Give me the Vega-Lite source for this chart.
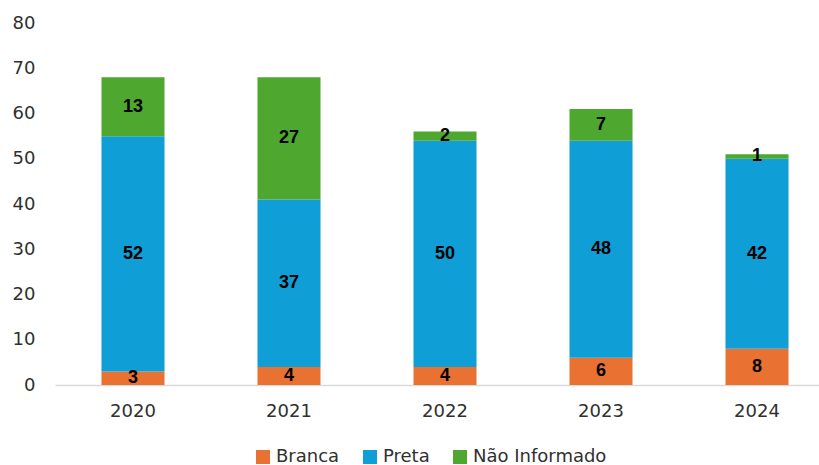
{
  "$schema": "https://vega.github.io/schema/vega-lite/v6.json",
  "autosize": {"type": "none"},
  "width": 764,
  "height": 362,
  "padding": {"left": 55, "top": 23, "right": 0, "bottom": 80},
  "background": "white",
  "config": {"view": {"stroke": null}, "font": "DejaVu Sans"},
  "data": {
    "values": [
      {"ano": "2020", "raca": "Branca", "valor": 3},
      {"ano": "2020", "raca": "Preta", "valor": 52},
      {"ano": "2020", "raca": "Não Informado", "valor": 13},
      {"ano": "2021", "raca": "Branca", "valor": 4},
      {"ano": "2021", "raca": "Preta", "valor": 37},
      {"ano": "2021", "raca": "Não Informado", "valor": 27},
      {"ano": "2022", "raca": "Branca", "valor": 4},
      {"ano": "2022", "raca": "Preta", "valor": 50},
      {"ano": "2022", "raca": "Não Informado", "valor": 2},
      {"ano": "2023", "raca": "Branca", "valor": 6},
      {"ano": "2023", "raca": "Preta", "valor": 48},
      {"ano": "2023", "raca": "Não Informado", "valor": 7},
      {"ano": "2024", "raca": "Branca", "valor": 8},
      {"ano": "2024", "raca": "Preta", "valor": 42},
      {"ano": "2024", "raca": "Não Informado", "valor": 1}
    ]
  },
  "encoding": {
    "x": {
      "field": "ano", "type": "nominal", "title": null,
      "scale": {"paddingInner": 0.596, "paddingOuter": 0.2467, "align": 0.604},
      "axis": {"labelAngle": 0, "ticks": false, "domainColor": "#d9d9d9", "domainWidth": 1.5,
               "labelFontSize": 18, "labelColor": "#303030", "labelPadding": 17, "grid": false}
    },
    "y": {
      "field": "valor", "type": "quantitative", "title": null, "stack": "zero",
      "scale": {"domain": [0, 80]},
      "axis": {"values": [0, 10, 20, 30, 40, 50, 60, 70, 80], "domain": false, "ticks": false, "grid": false,
               "labelFontSize": 18, "labelColor": "#303030", "labelPadding": 20}
    },
    "order": {"field": "ordem"}
  },
  "transform": [
    {"lookup": "raca", "from": {"data": {"values": [{"raca": "Branca", "ordem": 1}, {"raca": "Preta", "ordem": 2}, {"raca": "Não Informado", "ordem": 3}]}, "key": "raca", "fields": ["ordem"]}}
  ],
  "layer": [
    {
      "mark": {"type": "bar"},
      "encoding": {
        "color": {
          "field": "raca", "type": "nominal", "title": null,
          "sort": ["Branca", "Preta", "Não Informado"],
          "scale": {"domain": ["Branca", "Preta", "Não Informado"], "range": ["#E97132", "#0F9ED5", "#4EA72E"]},
          "legend": {"orient": "none", "direction": "horizontal", "legendX": 199, "legendY": 425,
                     "symbolType": "square", "symbolSize": 196, "symbolStrokeWidth": 0,
                     "labelFontSize": 18, "labelColor": "#303030", "labelOffset": 4, "columnPadding": 21}
        }
      }
    },
    {
      "mark": {"type": "text", "fontWeight": "bold", "fontSize": 18, "font": "Liberation Sans", "color": "black", "baseline": "middle"},
      "encoding": {
        "y": {"field": "valor", "type": "quantitative", "stack": "zero", "bandPosition": 0.5},
        "text": {"field": "valor", "type": "quantitative"}
      }
    }
  ]
}
